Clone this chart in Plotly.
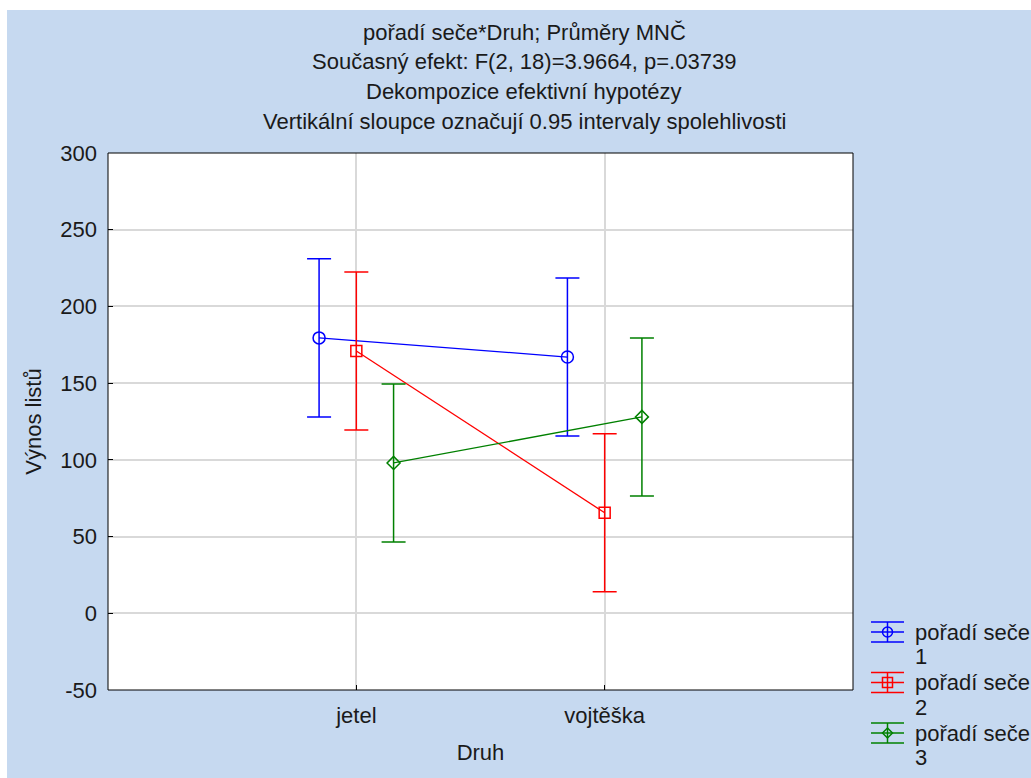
import plotly.graph_objects as go

categories = ["jetel", "vojtěška"]
series_labels = ["pořadí seče", "pořadí seče", "pořadí seče"]
series_numbers = ["1", "2", "3"]
means_1 = [179.5, 167.0]
means_2 = [171.0, 65.5]
means_3 = [98.0, 128.0]
ci_1 = [51.5, 51.5]
ci_2 = [51.5, 51.5]
ci_3 = [51.5, 51.5]
y_ticks = [-50, 0, 50, 100, 150, 200, 250, 300]
y_tick_labels = ["-50", "0", "50", "100", "150", "200", "250", "300"]

title_lines = [
    "pořadí seče*Druh; Průměry MNČ",
    "Současný efekt: F(2, 18)=3.9664, p=.03739",
    "Dekompozice efektivní hypotézy",
    "Vertikální sloupce označují 0.95 intervaly spolehlivosti",
]

FONT = "Liberation Sans, Arial, sans-serif"
FS = 22
BG = "#C6D9F0"
TXT = "#1a1a1a"
colors = ["#0000FF", "#FF0000", "#008000"]
symbols = ["circle-open", "square-open", "diamond-open"]
sizes = [12, 11, 10]
offsets = [-0.15, 0.0, 0.15]

L, R, T, B = 108, 178, 153, 88
W, H = 1031, 778
pw, ph = W - L - R, H - T - B

fig = go.Figure()
for name, num, m, ci, c, s, sz, off in zip(series_labels, series_numbers, [means_1, means_2, means_3],
                                            [ci_1, ci_2, ci_3], colors, symbols, sizes, offsets):
    fig.add_trace(go.Scatter(
        x=[i + off for i in range(len(categories))], y=m, name=f"{name} {num}",
        mode="lines+markers", showlegend=False,
        line=dict(color=c, width=1.3),
        marker=dict(symbol=s, size=sz, color=c, line=dict(color=c, width=1.5)),
        error_y=dict(type="data", array=ci, visible=True, color=c, thickness=1.5, width=12),
    ))

def px_x(px):
    return (px - L) / pw

def px_y(py):
    return (H - B - py) / ph

shapes = [
    dict(type="rect", xref="paper", yref="paper", layer="below",
         x0=px_x(7), x1=px_x(W + 20), y0=px_y(H + 20), y1=px_y(10),
         fillcolor=BG, line=dict(width=0)),
    dict(type="rect", xref="paper", yref="paper", layer="below",
         x0=0, x1=1, y0=0, y1=1, fillcolor="white", line=dict(width=0)),
    dict(type="rect", xref="paper", yref="paper", layer="above",
         x0=0, x1=1, y0=0, y1=1, fillcolor="rgba(0,0,0,0)", line=dict(color="black", width=1)),
]

annotations = []
for k, line in enumerate(title_lines):
    annotations.append(dict(
        text=line, xref="paper", yref="paper", x=px_x(524), y=px_y(32 + 29.7 * k),
        xanchor="center", yanchor="middle", showarrow=False,
        font=dict(family=FONT, size=FS, color=TXT),
    ))

# manual legend (error-bar style symbols, tight line spacing)
leg_x0, leg_x1, leg_cx = 871, 904, 887.5
for k, (name, num, c, s) in enumerate(zip(series_labels, series_numbers, colors, symbols)):
    cy = 632 + 50.5 * k
    ln = dict(color=c, width=1.5)
    for yy in (cy - 10, cy, cy + 10):
        shapes.append(dict(type="line", xref="paper", yref="paper", layer="above",
                           x0=px_x(leg_x0), x1=px_x(leg_x1), y0=px_y(yy), y1=px_y(yy), line=ln))
    shapes.append(dict(type="line", xref="paper", yref="paper", layer="above",
                       x0=px_x(leg_cx), x1=px_x(leg_cx), y0=px_y(cy - 10), y1=px_y(cy + 10), line=ln))
    r = 5
    if s.startswith("circle"):
        shapes.append(dict(type="circle", xref="paper", yref="paper", layer="above",
                           x0=px_x(leg_cx - r), x1=px_x(leg_cx + r), y0=px_y(cy + r), y1=px_y(cy - r),
                           line=ln, fillcolor="rgba(0,0,0,0)"))
    elif s.startswith("square"):
        shapes.append(dict(type="rect", xref="paper", yref="paper", layer="above",
                           x0=px_x(leg_cx - r), x1=px_x(leg_cx + r), y0=px_y(cy + r), y1=px_y(cy - r),
                           line=ln, fillcolor="rgba(0,0,0,0)"))
    else:
        p = (f"M {px_x(leg_cx)},{px_y(cy - r)} L {px_x(leg_cx + r)},{px_y(cy)} "
             f"L {px_x(leg_cx)},{px_y(cy + r)} L {px_x(leg_cx - r)},{px_y(cy)} Z")
        shapes.append(dict(type="path", path=p, xref="paper", yref="paper", layer="above",
                           line=ln, fillcolor="rgba(0,0,0,0)"))
    annotations.append(dict(text=name, xref="paper", yref="paper", x=px_x(913), y=px_y(cy),
                            xanchor="left", yanchor="middle", showarrow=False,
                            font=dict(family=FONT, size=FS, color=TXT)))
    annotations.append(dict(text=num, xref="paper", yref="paper", x=px_x(913), y=px_y(cy + 24.5),
                            xanchor="left", yanchor="middle", showarrow=False,
                            font=dict(family=FONT, size=FS, color=TXT)))

fig.update_layout(
    width=W, height=H,
    margin=dict(l=L, r=R, t=T, b=B, autoexpand=False),
    paper_bgcolor="white", plot_bgcolor="rgba(0,0,0,0)",
    font=dict(family=FONT, size=FS, color=TXT),
    shapes=shapes, annotations=annotations,
    showlegend=False,
)
fig.update_xaxes(
    range=[-1, 2], tickmode="array", tickvals=list(range(len(categories))), ticktext=categories,
    showgrid=True, gridcolor="#D9D9D9", gridwidth=1.5, zeroline=False,
    ticks="inside", ticklen=5, tickcolor="black", showline=False,
    ticklabelstandoff=10,
    title=dict(text="Druh", standoff=17, font=dict(size=FS)),
)
fig.update_yaxes(
    range=[-50, 300], tickmode="array", tickvals=y_ticks, ticktext=y_tick_labels,
    showgrid=True, gridcolor="#D9D9D9", gridwidth=1.5, zeroline=False,
    ticks="inside", ticklen=5, tickcolor="black", showline=False,
    ticklabelstandoff=10,
    title=dict(text="Výnos listů", standoff=12, font=dict(size=FS)),
)
fig.write_html("out.html")
